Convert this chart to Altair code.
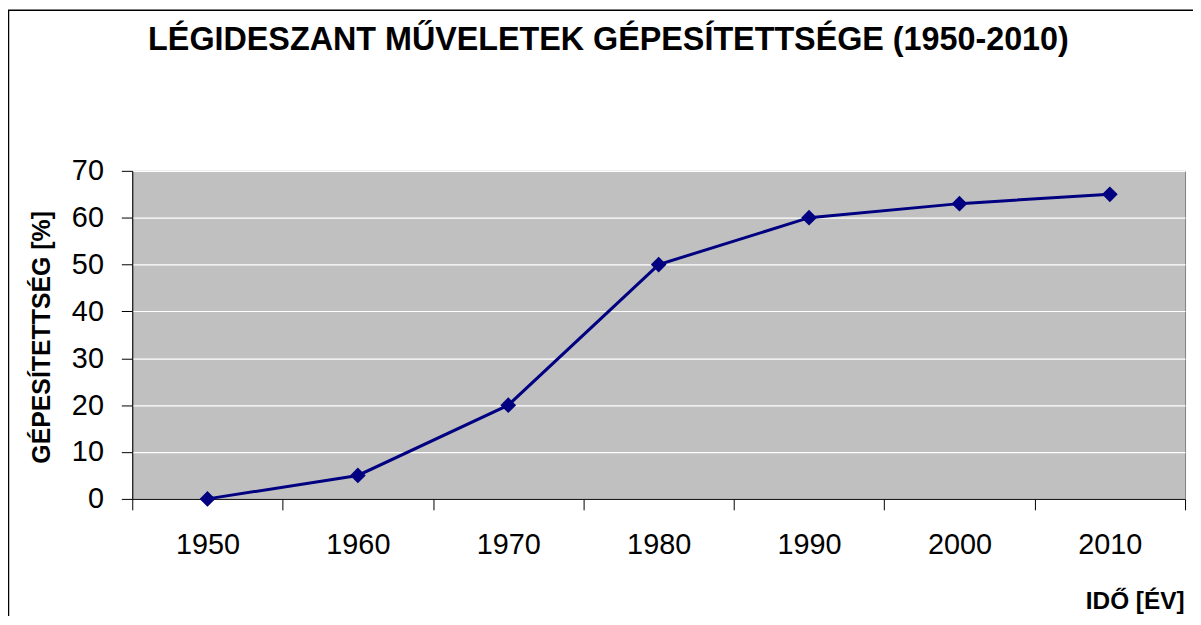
import altair as alt
import pandas as pd

years = ["1950", "1960", "1970", "1980", "1990", "2000", "2010"]
values = [0, 5, 20, 50, 60, 63, 65]
y_ticks = [0, 10, 20, 30, 40, 50, 60, 70]

title_text = "LÉGIDESZANT MŰVELETEK GÉPESÍTETTSÉGE (1950-2010)"
y_title = "GÉPESÍTETTSÉG [%]"
x_title = "IDŐ [ÉV]"

FONT = "Liberation Sans"
W, H = 1059, 330

df = pd.DataFrame({"year": years, "value": values})

base = alt.Chart(df)

x_enc = alt.X(
    "year:O",
    sort=years,
    scale=alt.Scale(paddingInner=0, paddingOuter=0),
    axis=alt.Axis(
        title=x_title,
        titleFont=FONT,
        titleFontSize=24.5,
        titleFontWeight="bold",
        titleColor="black",
        titleX=W - 1,
        titleY=103,
        titleAlign="right",
        titleBaseline="middle",
        labelFont=FONT,
        labelFontSize=29,
        labelColor="black",
        labelAngle=0,
        labelPadding=21,
        tickBand="extent",
        tickSize=11,
        tickColor="black",
        domainColor="black",
        grid=False,
    ),
)

y_enc = alt.Y(
    "value:Q",
    scale=alt.Scale(domain=[0, 70], nice=False),
    axis=alt.Axis(
        title=y_title,
        titleFont=FONT,
        titleFontSize=25,
        titleFontWeight="bold",
        titleColor="black",
        titleAngle=-90,
        titleX=-91,
        titleY=H / 2 + 2,
        titleAlign="center",
        titleBaseline="middle",
        values=y_ticks,
        labelFont=FONT,
        labelFontSize=29,
        labelColor="black",
        labelPadding=18,
        tickSize=11,
        tickColor="black",
        domainColor="black",
        grid=True,
        gridColor="white",
        gridWidth=1.2,
    ),
)

line = base.mark_line(color="#000080", strokeWidth=3).encode(x=x_enc, y=y_enc)
points = base.mark_point(
    shape="diamond", size=250, filled=True, color="#000080", opacity=1
).encode(x=alt.X("year:O", sort=years), y="value:Q")

deco = alt.Chart(pd.DataFrame({"t": [title_text]}))

border = deco.mark_rect(
    fill="transparent", stroke="black", strokeWidth=1.5
).encode(
    x=alt.value(-124.5),
    x2=alt.value(W + 100),
    y=alt.value(-161.5),
    y2=alt.value(H + 200),
)

title = deco.mark_text(
    font=FONT, fontSize=32.5, fontWeight="bold", color="black",
    align="center", baseline="alphabetic",
).encode(
    text="t:N",
    x=alt.value(479),
    y=alt.value(-122),
)

chart = (
    alt.layer(border, line, points, title)
    .properties(
        width=W,
        height=H,
        autosize="none",
        padding={"left": 125, "top": 162, "right": 8, "bottom": 116},
        background="white",
    )
    .configure_view(fill="#C0C0C0", stroke="#808080", strokeWidth=1)
)

chart.save("out.html", embed_options={"renderer": "svg", "actions": False})
